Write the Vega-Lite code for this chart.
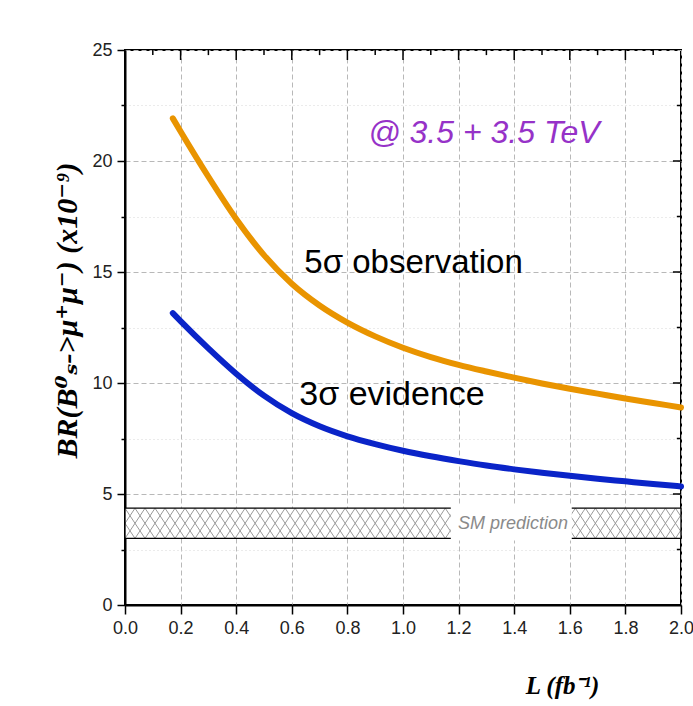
{
  "$schema": "https://vega.github.io/schema/vega-lite/v6.json",
  "width": 556,
  "height": 555,
  "autosize": {"type": "none"},
  "padding": {"left": 125, "top": 50, "right": 12, "bottom": 101},
  "background": "white",
  "config": {"view": {"stroke": "black", "strokeWidth": 2}},
  "datasets": {
    "curves": [
      {"L": 0.172, "BR": 21.92, "s": "5σ"},
      {"L": 0.2, "BR": 21.33, "s": "5σ"},
      {"L": 0.3, "BR": 19.29, "s": "5σ"},
      {"L": 0.4, "BR": 17.39, "s": "5σ"},
      {"L": 0.5, "BR": 15.76, "s": "5σ"},
      {"L": 0.6, "BR": 14.47, "s": "5σ"},
      {"L": 0.7, "BR": 13.49, "s": "5σ"},
      {"L": 0.8, "BR": 12.72, "s": "5σ"},
      {"L": 0.9, "BR": 12.1, "s": "5σ"},
      {"L": 1.0, "BR": 11.59, "s": "5σ"},
      {"L": 1.1, "BR": 11.17, "s": "5σ"},
      {"L": 1.2, "BR": 10.82, "s": "5σ"},
      {"L": 1.3, "BR": 10.52, "s": "5σ"},
      {"L": 1.4, "BR": 10.24, "s": "5σ"},
      {"L": 1.5, "BR": 9.98, "s": "5σ"},
      {"L": 1.6, "BR": 9.74, "s": "5σ"},
      {"L": 1.7, "BR": 9.52, "s": "5σ"},
      {"L": 1.8, "BR": 9.3, "s": "5σ"},
      {"L": 1.9, "BR": 9.1, "s": "5σ"},
      {"L": 2.0, "BR": 8.9, "s": "5σ"},
      {"L": 0.172, "BR": 13.15, "s": "3σ"},
      {"L": 0.2, "BR": 12.79, "s": "3σ"},
      {"L": 0.3, "BR": 11.56, "s": "3σ"},
      {"L": 0.4, "BR": 10.42, "s": "3σ"},
      {"L": 0.5, "BR": 9.43, "s": "3σ"},
      {"L": 0.6, "BR": 8.64, "s": "3σ"},
      {"L": 0.7, "BR": 8.05, "s": "3σ"},
      {"L": 0.8, "BR": 7.6, "s": "3σ"},
      {"L": 0.9, "BR": 7.25, "s": "3σ"},
      {"L": 1.0, "BR": 6.95, "s": "3σ"},
      {"L": 1.1, "BR": 6.7, "s": "3σ"},
      {"L": 1.2, "BR": 6.48, "s": "3σ"},
      {"L": 1.3, "BR": 6.28, "s": "3σ"},
      {"L": 1.4, "BR": 6.11, "s": "3σ"},
      {"L": 1.5, "BR": 5.96, "s": "3σ"},
      {"L": 1.6, "BR": 5.82, "s": "3σ"},
      {"L": 1.7, "BR": 5.69, "s": "3σ"},
      {"L": 1.8, "BR": 5.57, "s": "3σ"},
      {"L": 1.9, "BR": 5.45, "s": "3σ"},
      {"L": 2.0, "BR": 5.34, "s": "3σ"}
    ],
    "band": [{"x0": 0, "x1": 2, "lo": 3.0, "hi": 4.36}],
    "gap": [{"x0": 1.172, "x1": 1.607, "lo": 2.9, "hi": 4.46, "label": "SM prediction", "xm": 1.396, "ym": 3.66}],
    "hatch": [
      {"a": -0.072, "b": 0.0}, {"a": -0.036, "b": 0.036}, {"a": 0.0, "b": 0.072}, {"a": 0.036, "b": 0.108},
      {"a": 0.072, "b": 0.144}, {"a": 0.108, "b": 0.18}, {"a": 0.144, "b": 0.216}, {"a": 0.18, "b": 0.252},
      {"a": 0.216, "b": 0.288}, {"a": 0.252, "b": 0.324}, {"a": 0.288, "b": 0.36}, {"a": 0.324, "b": 0.396},
      {"a": 0.36, "b": 0.432}, {"a": 0.396, "b": 0.468}, {"a": 0.432, "b": 0.504}, {"a": 0.468, "b": 0.54},
      {"a": 0.504, "b": 0.576}, {"a": 0.54, "b": 0.612}, {"a": 0.576, "b": 0.648}, {"a": 0.612, "b": 0.684},
      {"a": 0.648, "b": 0.72}, {"a": 0.684, "b": 0.756}, {"a": 0.72, "b": 0.792}, {"a": 0.756, "b": 0.828},
      {"a": 0.792, "b": 0.864}, {"a": 0.828, "b": 0.9}, {"a": 0.864, "b": 0.936}, {"a": 0.9, "b": 0.972},
      {"a": 0.936, "b": 1.008}, {"a": 0.972, "b": 1.044}, {"a": 1.008, "b": 1.08}, {"a": 1.044, "b": 1.116},
      {"a": 1.08, "b": 1.152}, {"a": 1.116, "b": 1.188}, {"a": 1.152, "b": 1.224}, {"a": 1.188, "b": 1.26},
      {"a": 1.224, "b": 1.296}, {"a": 1.26, "b": 1.332}, {"a": 1.296, "b": 1.368}, {"a": 1.332, "b": 1.404},
      {"a": 1.368, "b": 1.44}, {"a": 1.404, "b": 1.476}, {"a": 1.44, "b": 1.512}, {"a": 1.476, "b": 1.548},
      {"a": 1.512, "b": 1.584}, {"a": 1.548, "b": 1.62}, {"a": 1.584, "b": 1.656}, {"a": 1.62, "b": 1.692},
      {"a": 1.656, "b": 1.728}, {"a": 1.692, "b": 1.764}, {"a": 1.728, "b": 1.8}, {"a": 1.764, "b": 1.836},
      {"a": 1.8, "b": 1.872}, {"a": 1.836, "b": 1.908}, {"a": 1.872, "b": 1.944}, {"a": 1.908, "b": 1.98},
      {"a": 1.944, "b": 2.016}, {"a": 1.98, "b": 2.052}
    ],
    "xmajor": [{"v": 0.2}, {"v": 0.4}, {"v": 0.6}, {"v": 0.8}, {"v": 1.0}, {"v": 1.2}, {"v": 1.4}, {"v": 1.6}, {"v": 1.8}],
    "xminor": [{"v": 0.1}, {"v": 0.3}, {"v": 0.5}, {"v": 0.7}, {"v": 0.9}, {"v": 1.1}, {"v": 1.3}, {"v": 1.5}, {"v": 1.7}, {"v": 1.9}],
    "ymajor": [{"v": 5}, {"v": 10}, {"v": 15}, {"v": 20}],
    "yminor": [{"v": 2.5}, {"v": 7.5}, {"v": 12.5}, {"v": 17.5}, {"v": 22.5}],
    "notes": [
      {"x": 0.645, "y": 14.97, "t": "5σ observation", "fs": 33},
      {"x": 0.627, "y": 9.0, "t": "3σ evidence", "fs": 34}
    ],
    "energy": [{"x": 1.291, "y": 20.81, "t": "@ 3.5 + 3.5 TeV"}]
  },
  "layer": [
    {
      "data": {"name": "band"},
      "mark": {"type": "rect", "fill": "white", "strokeWidth": 0},
      "encoding": {
        "x": {
          "field": "x0", "type": "quantitative",
          "scale": {"domain": [0, 2], "nice": false, "zero": false},
          "axis": {
            "values": [0, 0.1, 0.2, 0.3, 0.4, 0.5, 0.6, 0.7, 0.8, 0.9, 1.0, 1.1, 1.2, 1.3, 1.4, 1.5, 1.6, 1.7, 1.8, 1.9, 2.0],
            "labelExpr": "round(datum.value*10)%2==0 ? format(datum.value,'.1f') : ''",
            "labelOverlap": false,
            "labelFlush": false,
            "labelFont": "Liberation Sans",
            "labelFontSize": 18,
            "labelColor": "#222222",
            "labelPadding": 5,
            "tickColor": "black",
            "tickWidth": 1.5,
            "tickSize": {"condition": {"test": "round(datum.value*10)%2==0", "value": 9}, "value": 5},
            "domainColor": "black",
            "domainWidth": 2,
            "grid": true,
            "gridColor": {"condition": {"test": "round(datum.value*10)%2==0", "value": "#b8b8b8"}, "value": "#d6d6d6"},
            "gridDash": {"condition": {"test": "round(datum.value*10)%2==0", "value": [5, 3]}, "value": [1, 3]},
            "gridWidth": 1,
            "title": "L (fb⁻¹)",
            "titleFont": "Liberation Serif",
            "titleFontStyle": "italic",
            "titleFontWeight": "bold",
            "titleFontSize": 25,
            "titleColor": "black",
            "titleX": 437,
            "titleY": 88,
            "titleAlign": "center",
            "titleBaseline": "alphabetic"
          }
        },
        "x2": {"field": "x1"},
        "y": {
          "field": "lo", "type": "quantitative",
          "scale": {"domain": [0, 25], "nice": false, "zero": false},
          "axis": {
            "values": [0, 2.5, 5, 7.5, 10, 12.5, 15, 17.5, 20, 22.5, 25],
            "labelExpr": "datum.value%5==0 ? format(datum.value,'d') : ''",
            "labelOverlap": false,
            "labelFlush": false,
            "labelFont": "Liberation Sans",
            "labelFontSize": 18,
            "labelColor": "#222222",
            "labelPadding": 5,
            "tickColor": "black",
            "tickWidth": 1.5,
            "tickSize": {"condition": {"test": "datum.value%5==0", "value": 8}, "value": 4},
            "domainColor": "black",
            "domainWidth": 2,
            "grid": true,
            "gridColor": {"condition": {"test": "datum.value%5==0", "value": "#b8b8b8"}, "value": "#d6d6d6"},
            "gridDash": {"condition": {"test": "datum.value%5==0", "value": [5, 3]}, "value": [1, 3]},
            "gridWidth": 1,
            "title": "BR(B⁰ₛ->μ⁺μ⁻)  (x10⁻⁹)",
            "titleFont": "Liberation Serif, DejaVu Serif",
            "titleFontStyle": "italic",
            "titleFontWeight": "bold",
            "titleFontSize": 30,
            "titleColor": "black",
            "titleAngle": 270,
            "titleX": -58,
            "titleY": 260,
            "titleAlign": "center",
            "titleBaseline": "middle"
          }
        },
        "y2": {"field": "hi"}
      }
    },
    {
      "data": {"name": "hatch"},
      "mark": {"type": "rule", "color": "#9a9a9a", "strokeWidth": 1, "clip": true},
      "encoding": {
        "x": {"field": "a", "type": "quantitative"},
        "x2": {"field": "b"},
        "y": {"datum": 3.0},
        "y2": {"datum": 4.36}
      }
    },
    {
      "data": {"name": "hatch"},
      "mark": {"type": "rule", "color": "#9a9a9a", "strokeWidth": 1, "clip": true},
      "encoding": {
        "x": {"field": "a", "type": "quantitative"},
        "x2": {"field": "b"},
        "y": {"datum": 4.36},
        "y2": {"datum": 3.0}
      }
    },
    {
      "data": {"name": "band"},
      "mark": {"type": "rect", "fill": null, "fillOpacity": 0, "stroke": "black", "strokeWidth": 1.3},
      "encoding": {
        "x": {"field": "x0", "type": "quantitative"},
        "x2": {"field": "x1"},
        "y": {"field": "lo", "type": "quantitative"},
        "y2": {"field": "hi"}
      }
    },
    {
      "data": {"name": "gap"},
      "mark": {"type": "rect", "fill": "white", "strokeWidth": 0},
      "encoding": {
        "x": {"field": "x0", "type": "quantitative"},
        "x2": {"field": "x1"},
        "y": {"field": "lo", "type": "quantitative"},
        "y2": {"field": "hi"}
      }
    },
    {
      "data": {"name": "gap"},
      "mark": {"type": "text", "color": "#8a8a8a", "font": "Liberation Sans", "fontStyle": "italic", "fontSize": 18, "align": "center", "baseline": "middle"},
      "encoding": {
        "x": {"field": "xm", "type": "quantitative"},
        "y": {"field": "ym", "type": "quantitative"},
        "text": {"field": "label"}
      }
    },
    {
      "data": {"name": "xmajor"},
      "mark": {"type": "rule", "color": "black", "strokeWidth": 1.5},
      "encoding": {
        "x": {"field": "v", "type": "quantitative"},
        "y": {"datum": 25},
        "y2": {"datum": 24.55}
      }
    },
    {
      "data": {"name": "xminor"},
      "mark": {"type": "rule", "color": "black", "strokeWidth": 1.5},
      "encoding": {
        "x": {"field": "v", "type": "quantitative"},
        "y": {"datum": 25},
        "y2": {"datum": 24.77}
      }
    },
    {
      "data": {"name": "ymajor"},
      "mark": {"type": "rule", "color": "black", "strokeWidth": 1.5},
      "encoding": {
        "y": {"field": "v", "type": "quantitative"},
        "x": {"datum": 2},
        "x2": {"datum": 1.971}
      }
    },
    {
      "data": {"name": "yminor"},
      "mark": {"type": "rule", "color": "black", "strokeWidth": 1.5},
      "encoding": {
        "y": {"field": "v", "type": "quantitative"},
        "x": {"datum": 2},
        "x2": {"datum": 1.985}
      }
    },
    {
      "data": {"name": "curves"},
      "mark": {"type": "line", "strokeWidth": 6, "strokeCap": "round", "interpolate": "monotone"},
      "encoding": {
        "x": {"field": "L", "type": "quantitative"},
        "y": {"field": "BR", "type": "quantitative"},
        "color": {"field": "s", "type": "nominal", "scale": {"domain": ["5σ", "3σ"], "range": ["#e99400", "#0a24c8"]}, "legend": null}
      }
    },
    {
      "data": {"name": "notes"},
      "mark": {"type": "text", "color": "black", "font": "Liberation Sans", "align": "left", "baseline": "alphabetic"},
      "encoding": {
        "x": {"field": "x", "type": "quantitative"},
        "y": {"field": "y", "type": "quantitative"},
        "text": {"field": "t"},
        "size": {"field": "fs", "type": "quantitative", "scale": null}
      }
    },
    {
      "data": {"name": "energy"},
      "mark": {"type": "text", "color": "#9632c8", "font": "Liberation Sans", "fontStyle": "italic", "fontSize": 32, "align": "center", "baseline": "alphabetic"},
      "encoding": {
        "x": {"field": "x", "type": "quantitative"},
        "y": {"field": "y", "type": "quantitative"},
        "text": {"field": "t"}
      }
    }
  ]
}
